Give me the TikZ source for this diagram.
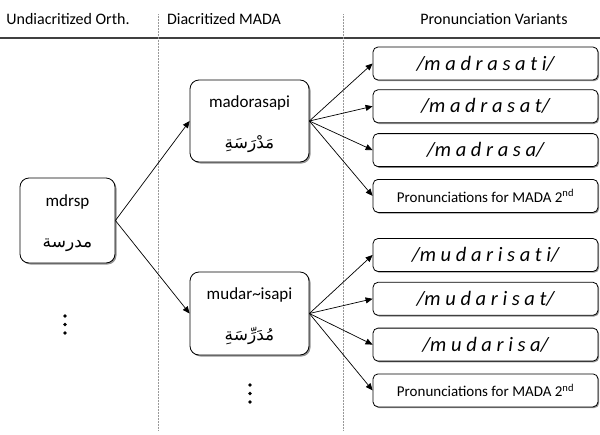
\documentclass[tikz,border=0pt]{standalone}
\usepackage{fontspec}
\setmainfont{Carlito}
\newfontfamily\arabicfont[Script=Arabic]{DejaVu Sans}
\TeXXeTstate=1
\usetikzlibrary{arrows.meta,positioning,shadows}

\begin{document}
\begin{tikzpicture}[
  x=1pt, y=-1pt,
  font=\fontsize{17}{20}\selectfont,
  head/.style={font=\fontsize{16}{19}\selectfont},
  word/.style={rectangle, rounded corners=9pt, draw, thick, fill=white,
               align=center, drop shadow={shadow xshift=1.5pt, shadow yshift=-1.5pt,
               fill=black!60, opacity=0.7}},
  pron/.style={rectangle, rounded corners=5pt, draw, thick, fill=white,
               minimum width=225pt, minimum height=33pt, inner sep=1pt,
               font=\fontsize{20.5}{23}\selectfont\itshape,
               drop shadow={shadow xshift=1.2pt, shadow yshift=-1.2pt,
               fill=black!60, opacity=0.7}},
  more/.style={pron, font=\fontsize{15}{17}\selectfont},
  divider/.style={gray!80, line width=0.5pt, densely dotted},
  arr/.style={-{Triangle[length=7pt, width=6pt]}, line width=0.7pt}
]
\useasboundingbox (0,0) rectangle (600,434);
\newcommand{\ar}[1]{{\arabicfont\fontsize{17}{19}\selectfont\beginR #1\endR}}

% column heads
\node[head] (hOrth) at (68,19)  {Undiacritized Orth.};
\node[head] (hMada) at (224,19) {Diacritized MADA};
\node[head] (hPron) at (494,19) {Pronunciation Variants};
\draw[black!75, line width=1.5pt] (0,38) -- (600,38);
\draw[divider] (158,14) -- (158,430);
\draw[divider] (343,14) -- (343,430);

% words
\node[word, minimum width=95pt, minimum height=85pt] (orth) at (67.5,220.5)
  {\rule{0pt}{18pt}mdrsp\\[21pt]\ar{مدرسة}};
\node[word, minimum width=119pt, minimum height=82pt] (mada1) at (249.5,121)
  {\rule{0pt}{18pt}madorasapi\\[21pt]\ar{مَدْرَسَةِ}};
\node[word, minimum width=119pt, minimum height=83pt] (mada2) at (249.5,313.5)
  {\rule{0pt}{18pt}mudar\textasciitilde isapi\\[21pt]\ar{مُدَرِّسَةِ}};

% pronunciations
\node[pron] (var1) at (485.5,63.5) {/m a d r a s a t i/};
\node[pron, below=9pt of var1]  (var2) {/m a d r a s a t/};
\node[pron, below=10pt of var2] (var3) {/m a d r a s a/};
\node[more, below=12pt of var3] (var4) {Pronunciations for MADA 2\textsuperscript{nd}};
\node[pron] (var5) at (485.5,255) {/m u d a r i s a t i/};
\node[pron, below=10pt of var5] (var6) {/m u d a r i s a t/};
\node[pron, below=12pt of var6] (var7) {/m u d a r i s a/};
\node[more, below=12pt of var7] (var8) {Pronunciations for MADA 2\textsuperscript{nd}};

% ellipses
\foreach \dy in {0,8.5,17} {
  \fill (65,316+\dy) circle (1.8);
  \fill (250,385+\dy) circle (1.8);
}

\draw[arr] (orth.east) -- (mada1.west);
\draw[arr] (orth.east) -- (mada2.west);
\foreach \v in {1,...,4} \draw[arr] (mada1.east) -- (var\v.west);
\foreach \v in {5,...,8} \draw[arr] (mada2.east) -- (var\v.west);
\end{tikzpicture}
\end{document}
